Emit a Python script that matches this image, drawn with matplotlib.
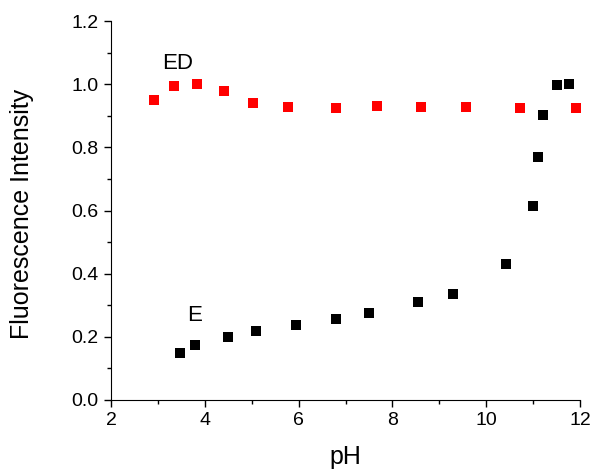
import matplotlib
matplotlib.use('Agg')
import matplotlib.pyplot as plt
from matplotlib.ticker import MultipleLocator, FormatStrFormatter

plt.rcParams['font.family'] = ['Liberation Sans', 'DejaVu Sans']

# ED series (red)
ph_ed = [2.92, 3.34, 3.83, 4.40, 5.03, 5.77, 6.80, 7.68, 8.60, 9.57, 10.71, 11.91]
fl_ed = [0.949, 0.995, 1.000, 0.978, 0.942, 0.929, 0.925, 0.932, 0.929, 0.929, 0.926, 0.926]

# E series (black)
ph_e = [3.46, 3.79, 4.49, 5.09, 5.94, 6.80, 7.49, 8.55, 9.30, 10.41, 10.99, 11.10, 11.20, 11.51, 11.76]
fl_e = [0.150, 0.175, 0.198, 0.219, 0.239, 0.255, 0.274, 0.311, 0.336, 0.431, 0.615, 0.769, 0.904, 0.997, 1.000]

fig = plt.figure(figsize=(5.95, 4.70), dpi=100)
ax = fig.add_axes([0.1866, 0.149, 0.7884, 0.806])

ax.plot(ph_ed, fl_ed, 's', color='red', markersize=7.8, markeredgewidth=0)
ax.plot(ph_e, fl_e, 's', color='black', markersize=7.8, markeredgewidth=0)

ax.text(3.09, 1.05, 'ED', fontsize=16)
ax.text(3.63, 0.251, 'E', fontsize=16)

ax.set_xlim(2, 12)
ax.set_ylim(0, 1.2)
ax.xaxis.set_major_locator(MultipleLocator(2))
ax.xaxis.set_minor_locator(MultipleLocator(1))
ax.yaxis.set_major_locator(MultipleLocator(0.2))
ax.yaxis.set_minor_locator(MultipleLocator(0.1))
ax.yaxis.set_major_formatter(FormatStrFormatter('%.1f'))

ax.spines['top'].set_visible(False)
ax.spines['right'].set_visible(False)
ax.tick_params(which='major', direction='out', length=5, width=1, labelsize=14, pad=4)
ax.tick_params(which='minor', direction='out', length=3, width=1)

ax.set_xlabel('pH', fontsize=18)
ax.set_ylabel('Fluorescence Intensity', fontsize=18)
ax.xaxis.set_label_coords(0.5, -0.12)
ax.yaxis.set_label_coords(-0.164, 0.49)

fig.savefig('out.png', dpi=100)
